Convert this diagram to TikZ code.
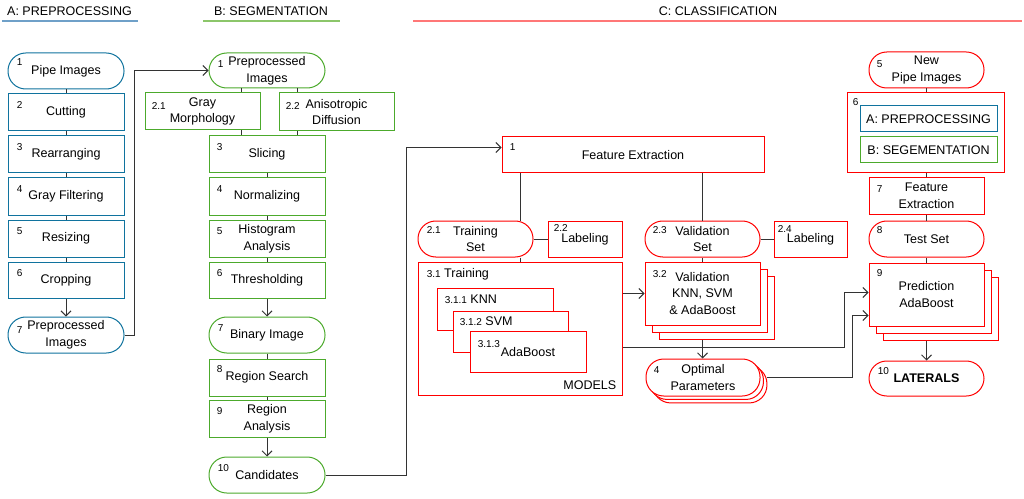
\documentclass[tikz,border=0pt]{standalone}
\usepackage{fontspec}
\setmainfont{Liberation Sans}
\usetikzlibrary{arrows.meta,calc,shadows}
\definecolor{cblue}{HTML}{10739E}
\definecolor{cgreen}{HTML}{4CAA2C}
\definecolor{cred}{HTML}{FF0000}
\definecolor{linec}{HTML}{333333}
\definecolor{ublue}{HTML}{6FA0C8}
\definecolor{ugreen}{HTML}{8CC66A}
\definecolor{ured}{HTML}{FF7777}
\newcommand\nf{\fontsize{7.5}{8}\selectfont}
\newcommand\nlab[4]{\node[numf] (#1n) at ($(#1.north west)+(#2,{#3+1.5})$) {#4};}
\begin{document}
\begin{tikzpicture}[x=0.75pt,y=-0.75pt,
  every node/.style={font=\fontsize{9.4}{12.5}\selectfont, text=black},
  base/.style={draw, line width=0.75pt, fill=white, inner sep=0pt, align=center},
  rbox/.style={base, rectangle},
  stad/.style={base, rectangle, rounded corners=13.3pt},
  bb/.style n args={4}{at={({(#1+#3)/2},{(#2+#4)/2})}, minimum width={(#3-#1)*0.75pt}, minimum height={(#4-#2)*0.75pt}},
  blu/.style={draw=cblue}, grn/.style={draw=cgreen}, rd/.style={draw=cred},
  numf/.style={font=\nf, inner sep=0pt, anchor=west},
  txt/.style={inner sep=0pt, anchor=west},
  conn/.style={draw=linec, line width=0.75pt},
  arr/.style={conn, -{Straight Barb[length=3.75pt,width=7.5pt]}},
  hdr/.style={inner sep=0pt},
  uline/.style={line width=1.5pt},
  stackbig/.style={double copy shadow={shadow xshift=5.25pt, shadow yshift=-5.25pt}},
  stacksm/.style={double copy shadow={shadow xshift=2.6pt, shadow yshift=-2.6pt}},
]
\useasboundingbox (0,0) rectangle (1024,499);

% headers
\node[hdr] (ha) at (69.5,11) {A: PREPROCESSING};
\draw[ublue, uline] (2,21) -- (138,21);
\node[hdr] (hb) at (271,11) {B: SEGMENTATION};
\draw[ugreen, uline] (203,21) -- (340,21);
\node[hdr] (hc) at (718,11) {C: CLASSIFICATION};
\draw[ured, uline] (413,21) -- (1022,21);

% column A
\node[stad,blu,bb={8}{53}{124}{89}] (a1) {Pipe Images};
\node[rbox,blu,bb={8}{94}{124}{131}] (a2) {Cutting};
\node[rbox,blu,bb={8}{136}{124}{173}] (a3) {Rearranging};
\node[rbox,blu,bb={8}{178}{124}{215}] (a4) {Gray Filtering};
\node[rbox,blu,bb={8}{220}{124}{257}] (a5) {Resizing};
\node[rbox,blu,bb={8}{262}{124}{298}] (a6) {Cropping};
\node[stad,blu,bb={8}{317}{124}{353}] (a7) {Preprocessed\\Images};
\nlab{a1}{9}{8}{1}
\nlab{a2}{9}{10}{2}
\nlab{a3}{9}{10}{3}
\nlab{a4}{9}{10}{4}
\nlab{a5}{9}{10}{5}
\nlab{a6}{9}{10}{6}
\nlab{a7}{9}{12}{7}

% column B
\node[stad,grn,bb={209}{53}{325}{88}] (b1) {Preprocessed\\Images};
\node[rbox,grn,bb={145}{93}{260}{130}] (b21) {Gray\\Morphology};
\node[rbox,grn,bb={279}{93}{394}{131}] (b22) {Anisotropic\\Diffusion};
\node[rbox,grn,bb={209}{136}{325}{173}] (b3) {Slicing};
\node[rbox,grn,bb={209}{178}{325}{215}] (b4) {Normalizing};
\node[rbox,grn,bb={209}{220}{325}{257}] (b5) {Histogram\\Analysis};
\node[rbox,grn,bb={209}{262}{325}{298}] (b6) {Thresholding};
\node[stad,grn,bb={209}{317}{325}{353}] (b7) {Binary Image};
\node[rbox,grn,bb={209}{359}{325}{396}] (b8) {Region Search};
\node[rbox,grn,bb={209}{400}{325}{437}] (b9) {Region\\Analysis};
\node[stad,grn,bb={209}{457}{325}{493}] (b10) {Candidates};
\nlab{b1}{9}{10}{1}
\nlab{b21}{7}{12}{2.1}
\nlab{b22}{7}{12}{2.2}
\nlab{b3}{8}{10}{3}
\nlab{b4}{8}{10}{4}
\nlab{b5}{8}{10}{5}
\nlab{b6}{8}{10}{6}
\nlab{b7}{9}{10}{7}
\nlab{b8}{8}{9}{8}
\nlab{b9}{8}{10}{9}
\nlab{b10}{9}{10}{10}

% column C
\node[rbox,rd,bb={502}{137}{764}{173}] (c1) {Feature Extraction};
\node[stad,rd,bb={418}{221}{533}{257}] (c21) {Training\\Set};
\node[rbox,rd,bb={548}{221}{622}{257}] (c22) {Labeling};
\node[rbox,rd,bb={418}{262}{622}{395}] (c31) {};
\node[rbox,rd,bb={437}{288}{553}{330}] (c311) {};
\node[rbox,rd,bb={453}{311}{568}{352}] (c312) {};
\node[rbox,rd,bb={470}{331}{586}{372}] (c313) {};
\node[stad,rd,bb={645}{221}{760}{257}] (c23) {Validation\\Set};
\node[rbox,rd,bb={774}{221}{847}{257}] (c24) {Labeling};
\node[rbox,rd,stackbig,bb={645}{262}{760}{325}] (c32) {Validation\\KNN, SVM\\\& AdaBoost};
\node[stad,rd,stacksm,bb={646}{359}{760}{396}] (c4) {Optimal\\Parameters};
\node[stad,rd,bb={869}{52}{984}{88}] (c5) {New\\Pipe Images};
\node[rbox,rd,bb={847}{93}{1004}{173}] (c6) {};
\node[rbox,blu,bb={860}{106}{997}{132}] (c6a) {A: PREPROCESSING};
\node[rbox,grn,bb={860}{137}{997}{163}] (c6b) {B: SEGEMENTATION};
\node[rbox,rd,bb={869}{178}{984}{214}] (c7) {Feature\\Extraction};
\node[stad,rd,bb={869}{221}{984}{257}] (c8) {Test Set};
\node[rbox,rd,stackbig,bb={869}{263}{984}{326}] (c9) {Prediction\\AdaBoost};
\node[stad,rd,bb={869}{361}{984}{396}] (c10) {\bfseries LATERALS};

\nlab{c1}{8}{9}{1}
\nlab{c21}{9}{8}{2.1}
\nlab{c22}{6}{6}{2.2}
\nlab{c23}{8}{8}{2.3}
\nlab{c24}{4}{7}{2.4}
\nlab{c32}{8}{11}{3.2}
\nlab{c4}{8}{10}{4}
\nlab{c5}{8}{11}{5}
\nlab{c6}{6}{8}{6}
\nlab{c7}{8}{10}{7}
\nlab{c8}{8}{8}{8}
\nlab{c9}{8}{9}{9}
\nlab{c10}{9}{9}{10}

\node[txt] (c31t) at ($(c31.north west)+(9,13)$) {{\nf 3.1} Training};
\node[txt] (c311t) at ($(c311.north west)+(8,12)$) {{\nf 3.1.1} KNN};
\node[txt] (c312t) at ($(c312.north west)+(7,11)$) {{\nf 3.1.2} SVM};
\nlab{c313}{8}{12}{3.1.3}
\node[txt] (c313t) at ($(c313.north west)+(31,22)$) {AdaBoost};
\node[inner sep=0pt, anchor=east] (c31m) at ($(c31.south east)+(-6,-10)$) {MODELS};

% helper coordinates
\coordinate (x241) at (241,0);
\coordinate (x297) at (297,0);
\coordinate (x520) at (520,0);

% connectors A
\draw[conn] (a1) -- (a2);
\draw[conn] (a2) -- (a3);
\draw[conn] (a3) -- (a4);
\draw[conn] (a4) -- (a5);
\draw[conn] (a5) -- (a6);
\draw[arr] (a6) -- (a7);
\draw[arr] (a7.east) -- ++(10,0) |- (b1.west);

% connectors B
\draw[conn] (b1.south -| x241) -- (b21.north -| x241);
\draw[conn] (b1.south -| x297) -- (b22.north -| x297);
\draw[conn] (b21.south -| x241) -- (b3.north -| x241);
\draw[conn] (b22.south -| x297) -- (b3.north -| x297);
\draw[conn] (b3) -- (b4);
\draw[conn] (b4) -- (b5);
\draw[conn] (b5) -- (b6);
\draw[arr] (b6) -- (b7);
\draw[conn] (b7) -- (b8);
\draw[conn] (b8) -- (b9);
\draw[arr] (b9) -- (b10);
\draw[arr] (b10.east) -- ++(81,0) |- ($(c1.north west)+(0,11)$);

% connectors C
\draw[conn] (c1.south -| x520) -- (c21.north -| x520);
\draw[conn] (c1.south -| c23.north) -- (c23.north);
\draw[conn] (c21) -- (c22);
\draw[conn] (c21.south -| x520) -- (c31.north -| x520);
\draw[conn] (c23) -- (c24);
\draw[conn] (c23) -- (c32);
\draw[arr] (c31.east |- c32.west) -- (c32.west);
\draw[arr] ($(c32.south)+(0,14.5)$) -- (c4.north -| c32.south);
\draw[arr] ($(c31.north east)+(0,86)$) -| ($(c9.north west)+(-24,30)$) -- ($(c9.north west)+(0,30)$);
\draw[arr] ($(c4.east)+(6,0)$) -| ($(c9.north west)+(-16,53)$) -- ($(c9.north west)+(0,53)$);
\draw[conn] (c5.south) -- (c6.north -| c5.south);
\draw[conn] (c6.south -| c7.north) -- (c7.north);
\draw[conn] (c7) -- (c8);
\draw[conn] (c8) -- (c9);
\draw[arr] ($(c9.south)+(0,14.5)$) -- (c10.north -| c9.south);
\end{tikzpicture}
\end{document}
